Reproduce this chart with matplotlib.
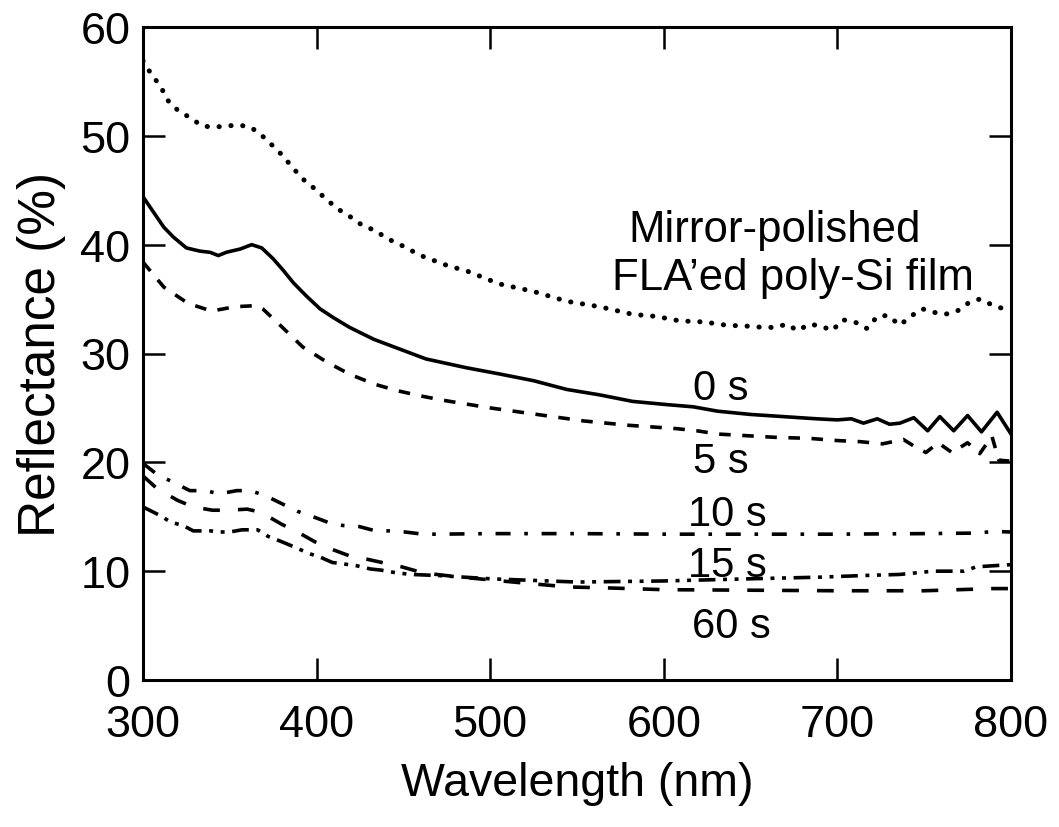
import matplotlib
matplotlib.use('Agg')
import matplotlib.pyplot as plt

plt.rcParams['font.family'] = ['Liberation Sans', 'DejaVu Sans']

# mirror-polished FLA'ed poly-Si film (dotted)
mirror_wl = [300, 305, 310, 314, 321, 327, 334, 341, 348, 355, 362, 368, 374, 381, 386, 393, 400, 406, 413, 420,
             427, 434, 440, 447, 460, 475, 488, 505, 525, 544, 563, 582, 596, 609, 623, 636, 650, 657, 664, 671,
             677, 684, 691, 697, 703, 710, 717, 723, 729, 736, 742, 749, 755, 762, 769, 776, 782, 790, 796, 800]
mirror_r = [56.9, 55.6, 54.6, 53.3, 52.2, 51.7, 50.9, 50.8, 50.9, 51.0, 50.8, 50.1, 49.2, 48.1, 47.1, 45.9, 45.0, 44.1, 43.2, 42.5,
            41.7, 41.3, 40.6, 40.1, 39.0, 38.1, 37.5, 36.4, 35.7, 34.8, 34.3, 33.6, 33.4, 33.0, 32.9, 32.6, 32.5, 32.4, 32.4, 32.7,
            32.1, 32.7, 32.5, 32.1, 33.1, 32.9, 32.3, 33.4, 33.5, 32.6, 33.4, 34.1, 33.8, 33.6, 33.9, 34.7, 35.0, 34.4, 34.1, 34.0]

# 0 s (solid)
s0_wl = [300, 306, 312, 317.5, 325, 333, 338.6, 343.4, 348, 356, 362.6, 368.4, 375, 381, 386.6, 394, 402, 409.6, 419, 433,
         448, 463, 486, 506, 525, 544, 563, 582, 602, 617, 631, 650, 669, 688, 700, 708, 715, 723, 730, 736,
         744, 752, 759, 767, 775, 783, 792, 800]
s0_r = [44.4, 43.0, 41.6, 40.7, 39.7, 39.4, 39.3, 39.0, 39.3, 39.6, 40.0, 39.7, 38.7, 37.6, 36.5, 35.3, 34.1, 33.3, 32.4, 31.3,
        30.4, 29.5, 28.7, 28.1, 27.5, 26.7, 26.2, 25.6, 25.3, 25.1, 24.7, 24.4, 24.2, 24.0, 23.9, 24.0, 23.6, 24.0, 23.5, 23.6,
        24.1, 22.9, 24.2, 22.9, 24.3, 22.8, 24.6, 22.6]

# 5 s (dashed)
s5_wl = [300, 312, 326, 339.5, 353, 365.5, 369, 379, 392, 406, 419, 433, 446, 460, 473, 500, 527, 554, 580, 607,
         619, 631, 664, 684, 700, 713, 726, 738, 744, 751, 758, 766, 775, 782, 789, 793, 800]
s5_r = [38.4, 36.1, 34.6, 33.9, 34.3, 34.4, 34.1, 32.6, 30.6, 29.2, 28.1, 27.2, 26.6, 26.1, 25.7, 25.0, 24.4, 23.8, 23.4, 23.1,
        22.9, 22.6, 22.3, 22.2, 22.0, 21.9, 21.7, 22.1, 21.5, 20.9, 21.8, 20.9, 21.8, 20.8, 22.4, 20.2, 20.1]

# 10 s (dash-dot)
s10_wl = [300, 308, 317, 327, 336, 344, 354, 362, 371, 380, 389, 398, 408, 415, 424.5, 434, 442, 451, 461, 470,
          500, 550, 600, 650, 700, 750, 780, 790, 800]
s10_r = [19.9, 18.9, 18.2, 17.4, 17.4, 17.1, 17.4, 17.4, 16.9, 16.2, 15.5, 15.0, 14.4, 14.2, 14.1, 13.7, 13.7, 13.6, 13.4, 13.4,
         13.45, 13.45, 13.4, 13.4, 13.4, 13.45, 13.5, 13.65, 13.6]

# 15 s (dash-dot-dot)
s15_wl = [300, 310, 316, 323, 329, 339, 344, 350, 357, 366, 372, 380, 386, 396, 402, 409, 414, 423, 431, 437,
          444, 454, 470, 500, 550, 600, 650, 690, 715, 736, 755, 773, 780, 790, 800]
s15_r = [15.9, 15.1, 14.5, 14.2, 13.7, 13.7, 13.6, 13.6, 13.8, 13.8, 13.2, 12.7, 12.3, 11.6, 11.3, 10.8, 10.7, 10.5, 10.2, 10.1,
         9.9, 9.7, 9.6, 9.3, 9.0, 9.1, 9.3, 9.45, 9.6, 9.7, 10.0, 10.0, 10.4, 10.5, 10.6]

# 60 s (long dashes)
s60_wl = [300, 308, 320, 329, 340, 349, 360, 368, 380, 389, 399, 409, 419, 429, 439, 449, 460, 469, 480, 500,
          520, 545, 570, 600, 650, 700, 750, 790, 800]
s60_r = [18.75, 17.6, 16.5, 15.9, 15.6, 15.6, 15.7, 15.4, 14.3, 13.6, 12.7, 12.0, 11.4, 11.1, 10.75, 10.4, 9.9, 9.7, 9.5, 9.2,
         8.9, 8.55, 8.45, 8.3, 8.25, 8.2, 8.2, 8.4, 8.4]

fig = plt.figure(figsize=(10.59, 8.28), dpi=100)
ax = fig.add_axes([143 / 1059, 1 - 681 / 828, 868 / 1059, 653 / 828])

ax.plot(mirror_wl, mirror_r, color='black', lw=3.6, linestyle=(0, (0.05, 2.33)), dash_capstyle='round')
ax.plot(s0_wl, s0_r, color='black', lw=2.6)
ax.plot(s5_wl, s5_r, color='black', lw=2.6, linestyle=(0, (3.2, 3.2)))
ax.plot(s10_wl, s10_r, color='black', lw=2.6, linestyle=(0, (4.15, 3.8, 1.0, 3.8)))
ax.plot(s15_wl, s15_r, color='black', lw=2.6, linestyle=(0, (4.65, 2.1, 1.1, 2.1, 1.1, 2.1)))
ax.plot(s60_wl, s60_r, color='black', lw=2.6, linestyle=(0, (4.65, 5.0)))

# annotations
ax.text(579.4, 40.3, 'Mirror-polished', fontsize=31.5, va='baseline', ha='left')
ax.text(570.2, 35.9, 'FLA\u2019ed poly-Si film', fontsize=31.5, va='baseline', ha='left')
ax.text(616.8, 25.8, '0 s', fontsize=30, va='baseline', ha='left')
ax.text(616.8, 19.1, '5 s', fontsize=30, va='baseline', ha='left')
ax.text(614.0, 14.2, '10 s', fontsize=30, va='baseline', ha='left')
ax.text(614.0, 9.6, '15 s', fontsize=30, va='baseline', ha='left')
ax.text(616.0, 3.95, '60 s', fontsize=30, va='baseline', ha='left')

ax.set_xlim(300, 800)
ax.set_ylim(0, 60)
ax.set_xticks(range(300, 801, 100))
ax.set_yticks(range(0, 61, 10))
ax.tick_params(direction='in', length=16, width=1.8, top=True, right=True, labelsize=32.5)
ax.tick_params(axis='x', pad=17)
ax.tick_params(axis='y', pad=9)
for sp in ax.spines.values():
    sp.set_linewidth(2.2)

ax.set_xlabel('Wavelength (nm)', fontsize=33.5, labelpad=12)
ax.set_ylabel('Reflectance (%)', fontsize=37, labelpad=10)

fig.savefig('out.png', dpi=100)
